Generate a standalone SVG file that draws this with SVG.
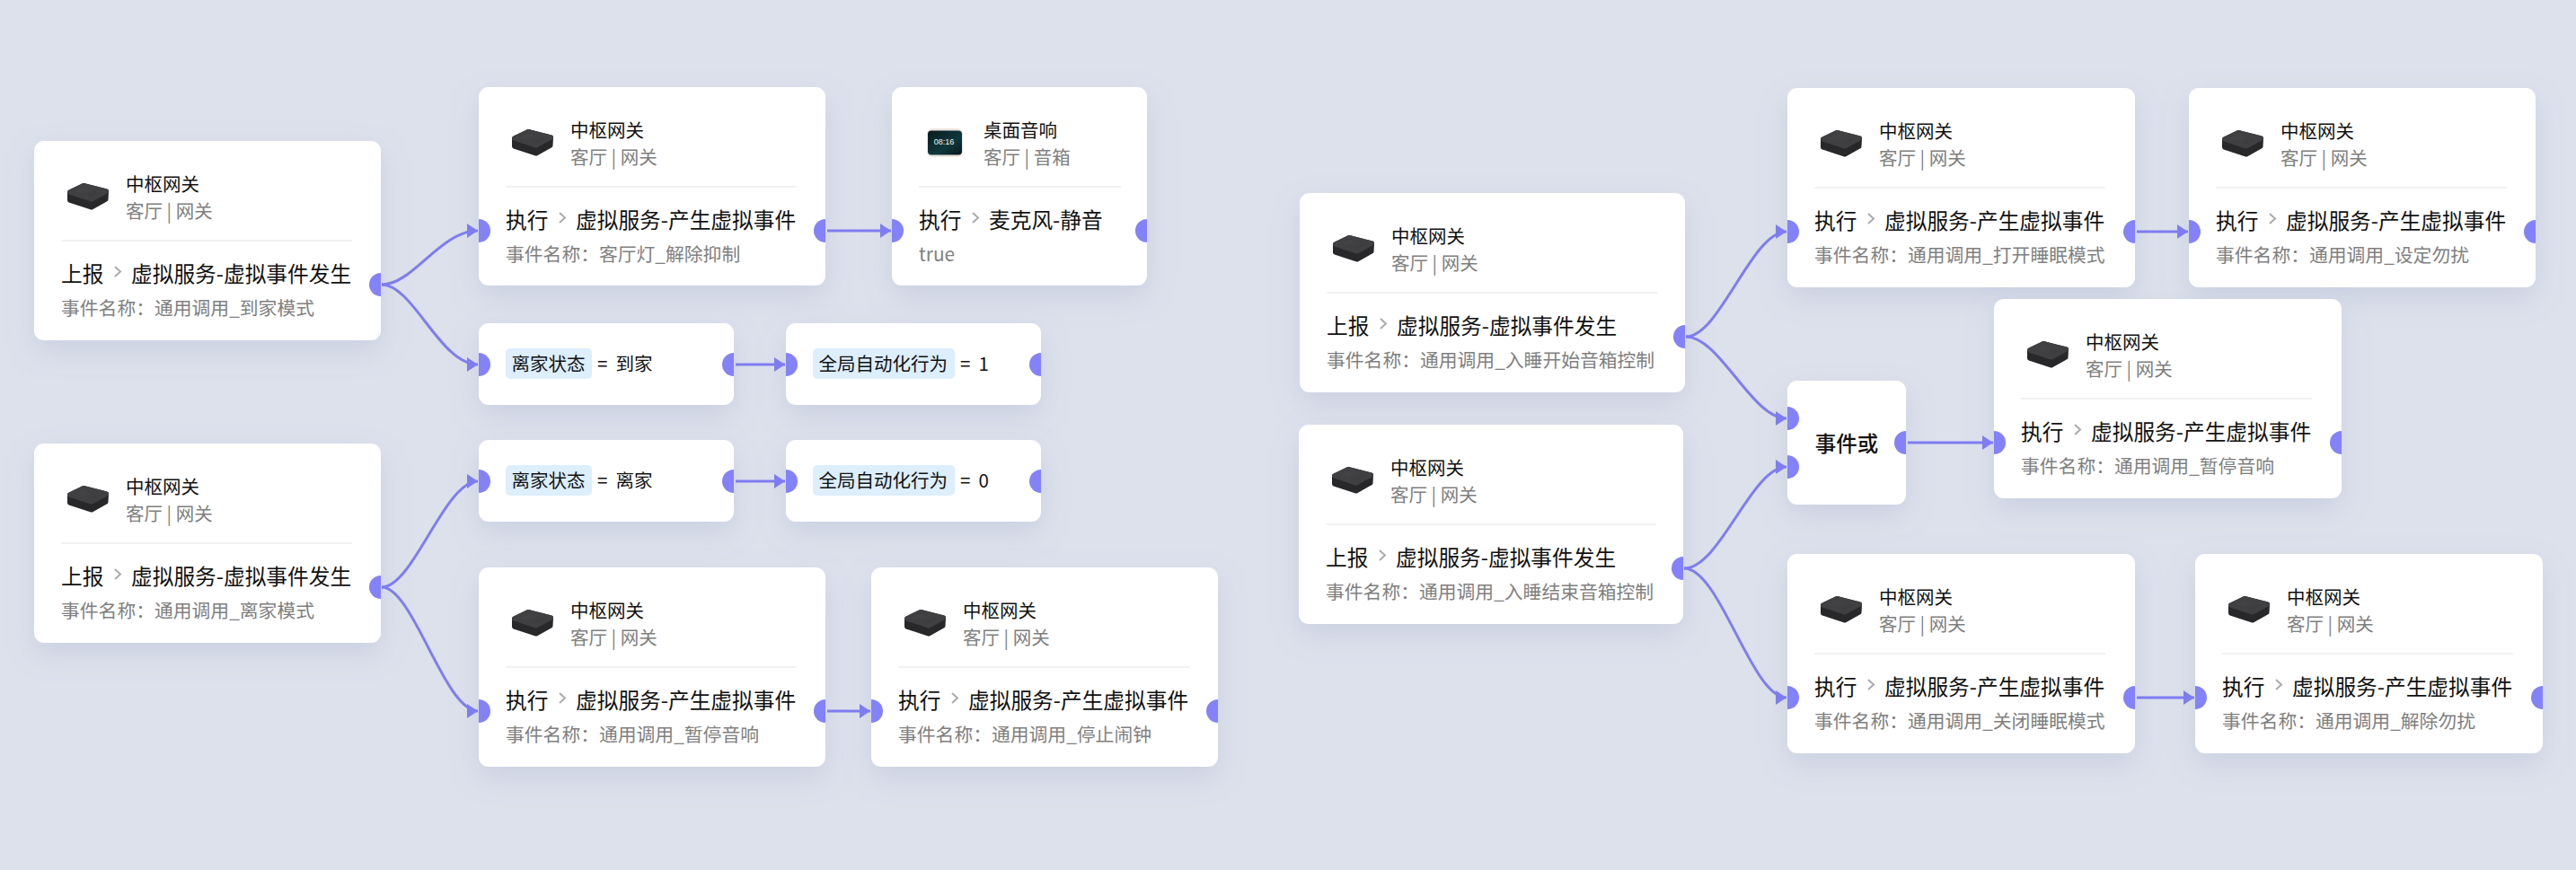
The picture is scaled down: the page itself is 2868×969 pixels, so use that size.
<svg xmlns="http://www.w3.org/2000/svg" width="2868" height="969" viewBox="0 0 2868 969">
<style>
text{font-family:"Noto Sans CJK SC","Noto Sans",sans-serif}
.card{fill:#fff;filter:url(#sh)}
.t{font-size:20.5px;fill:#111}
.s{font-size:20.5px;fill:#7f7f7f}
.a{font-size:23.7px;fill:#111}
.d{font-size:20.8px;fill:#808080}
.v{font-size:20.5px;fill:#111;word-spacing:4.5px}
.pill{fill:#DDEEFD}
.div{stroke:#EEEEF0;stroke-width:1.5}
.chev{fill:none;stroke:#ABABAB;stroke-width:2}
.port{fill:#8482F9}
.c{fill:none;stroke:#7F7CF2;stroke-width:3;marker-end:url(#ah)}
</style>
<defs>
<filter id="sh" x="-30%" y="-40%" width="160%" height="190%"><feDropShadow dx="0" dy="12" stdDeviation="16" flood-color="#7C88B0" flood-opacity="0.2"/></filter>
<marker id="ah" markerUnits="userSpaceOnUse" markerWidth="14" markerHeight="18" refX="12" refY="8" orient="auto"><path d="M0 0L12 8L0 16Z" fill="#7F7CF2"/></marker>
<linearGradient id="gt" x1="0" y1="0" x2="1" y2="1"><stop offset="0" stop-color="#4a4a4c"/><stop offset="1" stop-color="#37373a"/></linearGradient>
<linearGradient id="sc" x1="0" y1="0" x2="1" y2="1"><stop offset="0" stop-color="#0b1a1f"/><stop offset="0.6" stop-color="#0f383c"/><stop offset="1" stop-color="#08181c"/></linearGradient>
<path id="pl" class="port" d="M0-13A13 13 0 0 1 0 13Z"/>
<path id="pr" class="port" d="M0-13A13 13 0 0 0 0 13Z"/>
<g id="gw" stroke-linejoin="round" stroke-width="5">
<path d="M39.5 57L55 49.5L80.5 56L80 65L64 74L39.5 66Z" fill="#28282b" stroke="#28282b"/>
<path d="M39.5 57L55 49.5L80.5 56L64 65Z" fill="url(#gt)" stroke="#404043"/>
</g>
<path id="ch" class="chev" d="M90 140L96 145.5L90 151"/>
</defs>
<rect width="2868" height="969" fill="#DDE1EC"/>

<g id="n-report-arrive" transform="translate(38 157)">
<rect class="card" width="386" height="222" rx="11"/><use href="#gw"/>
<text class="t" x="102" y="56">中枢网关</text><text class="s" x="102" y="86">客厅 | 网关</text>
<line class="div" x1="30" x2="354" y1="111" y2="111"/>
<text class="a" x="30" y="157">上报</text><use href="#ch"/><text class="a" x="108" y="157">虚拟服务-虚拟事件发生</text>
<text class="d" x="30" y="194">事件名称：通用调用_到家模式</text>
<use href="#pr" x="386" y="160"/>
</g>
<g id="n-report-leave" transform="translate(38 494)">
<rect class="card" width="386" height="222" rx="11"/><use href="#gw"/>
<text class="t" x="102" y="56">中枢网关</text><text class="s" x="102" y="86">客厅 | 网关</text>
<line class="div" x1="30" x2="354" y1="111" y2="111"/>
<text class="a" x="30" y="157">上报</text><use href="#ch"/><text class="a" x="108" y="157">虚拟服务-虚拟事件发生</text>
<text class="d" x="30" y="194">事件名称：通用调用_离家模式</text>
<use href="#pr" x="386" y="160"/>
</g>
<g id="n-light" transform="translate(533 97)">
<rect class="card" width="386" height="221" rx="11"/><use href="#gw"/>
<text class="t" x="102" y="56">中枢网关</text><text class="s" x="102" y="86">客厅 | 网关</text>
<line class="div" x1="30" x2="354" y1="111" y2="111"/>
<text class="a" x="30" y="157">执行</text><use href="#ch"/><text class="a" x="108" y="157">虚拟服务-产生虚拟事件</text>
<text class="d" x="30" y="194">事件名称：客厅灯_解除抑制</text>
<use href="#pl" y="160"/><use href="#pr" x="386" y="160"/>
</g>
<g id="n-speaker" transform="translate(993 97)">
<rect class="card" width="284" height="221" rx="11"/>
<rect x="39" y="46" width="40" height="32" rx="6" fill="#EDE6E0"/>
<rect x="40" y="48.5" width="38" height="27" rx="4" fill="url(#sc)"/>
<text x="58" y="64" text-anchor="middle" font-size="9" fill="#F2F8F8" style="font-family:'Liberation Sans',sans-serif">08:16</text>
<text class="t" x="102" y="56">桌面音响</text><text class="s" x="102" y="86">客厅 | 音箱</text>
<line class="div" x1="30" x2="255" y1="111" y2="111"/>
<text class="a" x="30" y="157">执行</text><use href="#ch"/><text class="a" x="108" y="157">麦克风-静音</text>
<text class="d" x="30" y="194">true</text>
<use href="#pl" y="160"/><use href="#pr" x="284" y="160"/>
</g>
<g id="n-state-home" transform="translate(533 360)">
<rect class="card" width="284" height="91" rx="11"/>
<rect class="pill" x="30" y="28" width="96" height="34" rx="5"/>
<text class="t" x="36.5" y="53">离家状态</text><text class="v" x="132" y="53">= 到家</text>
<use href="#pl" y="46"/><use href="#pr" x="284" y="46"/>
</g>
<g id="n-global-1" transform="translate(875 360)">
<rect class="card" width="284" height="91" rx="11"/>
<rect class="pill" x="30" y="28" width="158" height="34" rx="5"/>
<text class="t" x="36.5" y="53">全局自动化行为</text><text class="v" x="194" y="53">= 1</text>
<use href="#pl" y="46"/><use href="#pr" x="284" y="46"/>
</g>
<g id="n-state-away" transform="translate(533 490)">
<rect class="card" width="284" height="91" rx="11"/>
<rect class="pill" x="30" y="28" width="96" height="34" rx="5"/>
<text class="t" x="36.5" y="53">离家状态</text><text class="v" x="132" y="53">= 离家</text>
<use href="#pl" y="46"/><use href="#pr" x="284" y="46"/>
</g>
<g id="n-global-0" transform="translate(875 490)">
<rect class="card" width="284" height="91" rx="11"/>
<rect class="pill" x="30" y="28" width="158" height="34" rx="5"/>
<text class="t" x="36.5" y="53">全局自动化行为</text><text class="v" x="194" y="53">= 0</text>
<use href="#pl" y="46"/><use href="#pr" x="284" y="46"/>
</g>
<g id="n-pause" transform="translate(533 632)">
<rect class="card" width="386" height="222" rx="11"/><use href="#gw"/>
<text class="t" x="102" y="56">中枢网关</text><text class="s" x="102" y="86">客厅 | 网关</text>
<line class="div" x1="30" x2="354" y1="111" y2="111"/>
<text class="a" x="30" y="157">执行</text><use href="#ch"/><text class="a" x="108" y="157">虚拟服务-产生虚拟事件</text>
<text class="d" x="30" y="194">事件名称：通用调用_暂停音响</text>
<use href="#pl" y="160"/><use href="#pr" x="386" y="160"/>
</g>
<g id="n-stop-alarm" transform="translate(970 632)">
<rect class="card" width="386" height="222" rx="11"/><use href="#gw"/>
<text class="t" x="102" y="56">中枢网关</text><text class="s" x="102" y="86">客厅 | 网关</text>
<line class="div" x1="30" x2="354" y1="111" y2="111"/>
<text class="a" x="30" y="157">执行</text><use href="#ch"/><text class="a" x="108" y="157">虚拟服务-产生虚拟事件</text>
<text class="d" x="30" y="194">事件名称：通用调用_停止闹钟</text>
<use href="#pl" y="160"/><use href="#pr" x="386" y="160"/>
</g>
<g id="n-sleep-start" transform="translate(1447 215)">
<rect class="card" width="429" height="222" rx="11"/><use href="#gw"/>
<text class="t" x="102" y="56">中枢网关</text><text class="s" x="102" y="86">客厅 | 网关</text>
<line class="div" x1="30" x2="399" y1="111" y2="111"/>
<text class="a" x="30" y="157">上报</text><use href="#ch"/><text class="a" x="108" y="157">虚拟服务-虚拟事件发生</text>
<text class="d" x="30" y="194">事件名称：通用调用_入睡开始音箱控制</text>
<use href="#pr" x="429" y="160"/>
</g>
<g id="n-sleep-end" transform="translate(1446 473)">
<rect class="card" width="428" height="222" rx="11"/><use href="#gw"/>
<text class="t" x="102" y="56">中枢网关</text><text class="s" x="102" y="86">客厅 | 网关</text>
<line class="div" x1="30" x2="398" y1="111" y2="111"/>
<text class="a" x="30" y="157">上报</text><use href="#ch"/><text class="a" x="108" y="157">虚拟服务-虚拟事件发生</text>
<text class="d" x="30" y="194">事件名称：通用调用_入睡结束音箱控制</text>
<use href="#pr" x="428" y="160"/>
</g>
<g id="n-sleep-on" transform="translate(1990 98)">
<rect class="card" width="387" height="222" rx="11"/><use href="#gw"/>
<text class="t" x="102" y="56">中枢网关</text><text class="s" x="102" y="86">客厅 | 网关</text>
<line class="div" x1="30" x2="354" y1="111" y2="111"/>
<text class="a" x="30" y="157">执行</text><use href="#ch"/><text class="a" x="108" y="157">虚拟服务-产生虚拟事件</text>
<text class="d" x="30" y="194">事件名称：通用调用_打开睡眠模式</text>
<use href="#pl" y="160"/><use href="#pr" x="387" y="160"/>
</g>
<g id="n-dnd-on" transform="translate(2437 98)">
<rect class="card" width="386" height="222" rx="11"/><use href="#gw"/>
<text class="t" x="102" y="56">中枢网关</text><text class="s" x="102" y="86">客厅 | 网关</text>
<line class="div" x1="30" x2="354" y1="111" y2="111"/>
<text class="a" x="30" y="157">执行</text><use href="#ch"/><text class="a" x="108" y="157">虚拟服务-产生虚拟事件</text>
<text class="d" x="30" y="194">事件名称：通用调用_设定勿扰</text>
<use href="#pl" y="160"/><use href="#pr" x="386" y="160"/>
</g>
<g id="n-or" transform="translate(1990 424)">
<rect class="card" width="132" height="138" rx="11"/>
<text x="66" y="79" text-anchor="middle" font-size="23.5" font-weight="500" fill="#111">事件或</text>
<use href="#pl" y="42"/><use href="#pl" y="96"/><use href="#pr" x="132" y="69"/>
</g>
<g id="n-pause-2" transform="translate(2220 333)">
<rect class="card" width="387" height="222" rx="11"/><use href="#gw"/>
<text class="t" x="102" y="56">中枢网关</text><text class="s" x="102" y="86">客厅 | 网关</text>
<line class="div" x1="30" x2="354" y1="111" y2="111"/>
<text class="a" x="30" y="157">执行</text><use href="#ch"/><text class="a" x="108" y="157">虚拟服务-产生虚拟事件</text>
<text class="d" x="30" y="194">事件名称：通用调用_暂停音响</text>
<use href="#pl" y="160"/><use href="#pr" x="387" y="160"/>
</g>
<g id="n-sleep-off" transform="translate(1990 617)">
<rect class="card" width="387" height="222" rx="11"/><use href="#gw"/>
<text class="t" x="102" y="56">中枢网关</text><text class="s" x="102" y="86">客厅 | 网关</text>
<line class="div" x1="30" x2="354" y1="111" y2="111"/>
<text class="a" x="30" y="157">执行</text><use href="#ch"/><text class="a" x="108" y="157">虚拟服务-产生虚拟事件</text>
<text class="d" x="30" y="194">事件名称：通用调用_关闭睡眠模式</text>
<use href="#pl" y="160"/><use href="#pr" x="387" y="160"/>
</g>
<g id="n-dnd-off" transform="translate(2444 617)">
<rect class="card" width="387" height="222" rx="11"/><use href="#gw"/>
<text class="t" x="102" y="56">中枢网关</text><text class="s" x="102" y="86">客厅 | 网关</text>
<line class="div" x1="30" x2="354" y1="111" y2="111"/>
<text class="a" x="30" y="157">执行</text><use href="#ch"/><text class="a" x="108" y="157">虚拟服务-产生虚拟事件</text>
<text class="d" x="30" y="194">事件名称：通用调用_解除勿扰</text>
<use href="#pl" y="160"/><use href="#pr" x="387" y="160"/>
</g>

<g id="connectors">
<path class="c" d="M425 317C460 317 490 257 532 257"/>
<path class="c" d="M425 317C460 317 490 406 532 406"/>
<path class="c" d="M425 654C460 654 495 536 532 536"/>
<path class="c" d="M425 654C460 654 495 792 532 792"/>
<path class="c" d="M921 257H992"/>
<path class="c" d="M819 406H874"/>
<path class="c" d="M819 536H874"/>
<path class="c" d="M921 792H969"/>
<path class="c" d="M1877 375C1915 375 1950 258 1989 258"/>
<path class="c" d="M1877 375C1915 375 1950 466 1989 466"/>
<path class="c" d="M1875 633C1915 633 1950 520 1989 520"/>
<path class="c" d="M1875 633C1915 633 1950 777 1989 777"/>
<path class="c" d="M2379 258H2436"/>
<path class="c" d="M2124 493H2219"/>
<path class="c" d="M2379 777H2443"/>
</g>
</svg>
